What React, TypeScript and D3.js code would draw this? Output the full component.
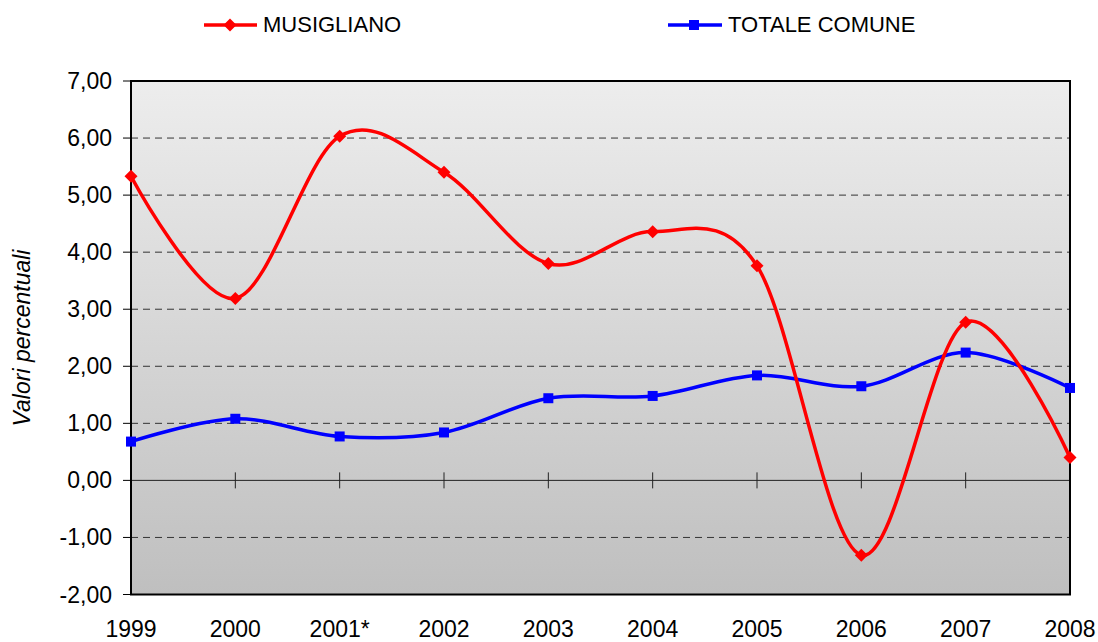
import React from "react";
import * as d3 from "d3";

const years = ["1999", "2000", "2001*", "2002", "2003", "2004", "2005", "2006", "2007", "2008"];
const musigliano = [5.33, 3.19, 6.03, 5.40, 3.80, 4.36, 3.76, -1.31, 2.77, 0.40];
const totaleComune = [0.68, 1.08, 0.77, 0.84, 1.44, 1.48, 1.84, 1.65, 2.24, 1.62];
const yTicks = [-2, -1, 0, 1, 2, 3, 4, 5, 6, 7];
const seriesNames = ["MUSIGLIANO", "TOTALE COMUNE"];

const W = 1098;
const H = 642;
const L = 131, R = 1070, T = 81, B = 594.5;
const FONT = "Liberation Sans, Arial, sans-serif";

export default function App() {
  const x = d3.scalePoint<string>().domain(years).range([L, R]);
  const y = d3.scaleLinear().domain([-2, 7]).range([B, T]);
  const line = d3
    .line<number>()
    .x((_, i) => x(years[i]) as number)
    .y((d) => y(d))
    .curve(d3.curveCardinal.tension(0));
  const fmt = (v: number) => v.toFixed(2).replace(".", ",");

  const diamond = (cx: number, cy: number, r: number) =>
    `M${cx},${cy - r}L${cx + r},${cy}L${cx},${cy + r}L${cx - r},${cy}Z`;

  return (
    <div style={{ position: "absolute", left: 0, top: 0 }}>
      <svg width={W} height={H} style={{ display: "block", background: "#fff" }}>
        <defs>
          <linearGradient id="bg" x1="0" y1="0" x2="0" y2="1">
            <stop offset="0" stopColor="#ededed" />
            <stop offset="1" stopColor="#bfbfbf" />
          </linearGradient>
        </defs>
        <rect x={L} y={T} width={R - L} height={B - T} fill="url(#bg)" />
        {yTicks
          .filter((t) => t !== 0 && t !== 7 && t !== -2)
          .map((t) => (
            <line key={"g" + t} x1={L} x2={R} y1={y(t)} y2={y(t)} stroke="#333" strokeWidth={1} strokeDasharray="7,5" />
          ))}
        {/* zero axis */}
        <line x1={L} x2={R} y1={y(0)} y2={y(0)} stroke="#222" strokeWidth={1} />
        {years.map((yr, i) =>
          i > 0 && i < years.length - 1 ? (
            <line key={"xt" + yr} x1={x(yr)} x2={x(yr)} y1={y(0) - 8} y2={y(0) + 8} stroke="#222" strokeWidth={1} />
          ) : null
        )}
        <rect x={L} y={T} width={R - L} height={B - T} fill="none" stroke="#000" strokeWidth={2} />
        {yTicks.map((t) => (
          <g key={"yt" + t}>
            <line x1={L - 8} x2={L} y1={y(t)} y2={y(t)} stroke="#000" strokeWidth={1} />
            <text x={112} y={y(t) + 8} textAnchor="end" fontFamily={FONT} fontSize={23} fill="#000">
              {fmt(t)}
            </text>
          </g>
        ))}
        {years.map((yr) => (
          <text key={"xl" + yr} x={x(yr)} y={637} textAnchor="middle" fontFamily={FONT} fontSize={23} fill="#000">
            {yr}
          </text>
        ))}
        <text
          transform={`translate(30,338) rotate(-90)`}
          textAnchor="middle"
          fontFamily={FONT}
          fontSize={23}
          fontStyle="italic"
          fill="#000"
        >
          Valori percentuali
        </text>

        {/* series */}
        <path d={line(totaleComune) || ""} fill="none" stroke="#0000ff" strokeWidth={3.5} />
        <path d={line(musigliano) || ""} fill="none" stroke="#ff0000" strokeWidth={3.5} />
        {totaleComune.map((v, i) => (
          <rect key={"bs" + i} x={(x(years[i]) as number) - 5} y={y(v) - 5} width={10} height={10} fill="#0000ff" />
        ))}
        {musigliano.map((v, i) => (
          <path key={"rd" + i} d={diamond(x(years[i]) as number, y(v), 6.5)} fill="#ff0000" />
        ))}

        {/* legend */}
        <line x1={204} x2={257} y1={25} y2={25} stroke="#ff0000" strokeWidth={3.5} />
        <path d={diamond(230, 25, 6.5)} fill="#ff0000" />
        <text x={263} y={32} fontFamily={FONT} fontSize={22} fill="#000">
          {seriesNames[0]}
        </text>
        <line x1={668} x2={722} y1={25} y2={25} stroke="#0000ff" strokeWidth={3.5} />
        <rect x={689} y={20} width={10} height={10} fill="#0000ff" />
        <text x={728} y={32} fontFamily={FONT} fontSize={22} fill="#000">
          {seriesNames[1]}
        </text>
      </svg>
    </div>
  );
}
